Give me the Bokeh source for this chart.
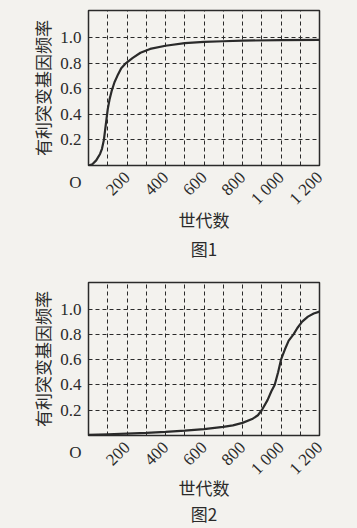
import math
from bokeh.plotting import figure
from bokeh.layouts import column
from bokeh.models import Range1d, FixedTicker
from bokeh.embed import file_html
from bokeh.resources import INLINE

# Figure 1 data (generation, favourable-mutation allele frequency)
gen1 = [0, 20, 40, 60, 70, 80, 90, 100, 110, 120, 135, 150, 170, 195, 230, 270,
        320, 400, 500, 600, 700, 800, 1000, 1200]
freq1 = [0.0, 0.01, 0.04, 0.09, 0.13, 0.2, 0.32, 0.44, 0.52, 0.58, 0.65, 0.7, 0.76,
         0.8, 0.84, 0.88, 0.91, 0.935, 0.955, 0.965, 0.97, 0.975, 0.978, 0.98]

# Figure 2 data
gen2 = [0, 100, 200, 300, 400, 500, 600, 700, 750, 800, 850, 880, 900, 930, 950,
        967, 985, 1000, 1020, 1040, 1065, 1085, 1110, 1140, 1170, 1200]
freq2 = [0.005, 0.01, 0.015, 0.02, 0.028, 0.038, 0.05, 0.068, 0.08, 0.1, 0.13, 0.16,
         0.2, 0.28, 0.35, 0.4, 0.5, 0.6, 0.68, 0.75, 0.8, 0.85, 0.9, 0.94, 0.965, 0.98]

x_ticks = [200, 400, 600, 800, 1000, 1200]
x_tick_labels = ["200", "400", "600", "800", "1 000", "1 200"]
y_ticks = [0, 0.2, 0.4, 0.6, 0.8, 1.0]
y_tick_labels = ["\n\nO", "0.2", "0.4", "0.6", "0.8", "1.0"]
y_grid = [0.2, 0.4, 0.6, 0.8, 1.0]
x_grid = [100, 200, 300, 400, 500, 600, 700, 800, 900, 1000, 1100]

y_title = "有利突变基因频率"
x_title = "世代数"
captions = ["图1", "图2"]

BG = "#f3f2ee"
INK = "#2a2a2a"
CJK = "Noto Sans CJK SC"
SERIF = "Liberation Serif"


def make(gx, fy, caption, h, top, bottom, line_h, lab_standoff):
    p = figure(width=357, height=h, output_backend="svg", toolbar_location=None,
               x_range=Range1d(0, 1200), y_range=Range1d(0, 1.21),
               min_border_left=88, min_border_right=38,
               min_border_top=top, min_border_bottom=bottom)
    p.background_fill_color = BG
    p.border_fill_color = BG
    p.outline_line_color = INK
    p.outline_line_width = 1.5

    p.xgrid.ticker = FixedTicker(ticks=x_grid)
    p.ygrid.ticker = FixedTicker(ticks=y_grid)
    for g in (p.xgrid, p.ygrid):
        g.grid_line_color = INK
        g.grid_line_dash = "4 3"
        g.grid_line_width = 1

    p.xaxis.ticker = FixedTicker(ticks=x_ticks)
    p.xaxis.major_label_overrides = dict(zip(x_ticks, x_tick_labels))
    p.yaxis.ticker = FixedTicker(ticks=y_ticks)
    p.yaxis.major_label_overrides = dict(zip(y_ticks, y_tick_labels))
    for ax in (p.xaxis, p.yaxis):
        ax.axis_line_color = None
        ax.major_tick_line_color = None
        ax.minor_tick_line_color = None
        ax.major_tick_out = 0
        ax.major_tick_in = 0
        ax.minor_tick_out = 0
        ax.minor_tick_in = 0
        ax.major_label_text_font = SERIF
        ax.major_label_text_font_size = "17px"
        ax.major_label_text_color = INK
        ax.axis_label_text_font = CJK
        ax.axis_label_text_font_size = "17px"
        ax.axis_label_text_font_style = "normal"
        ax.axis_label_text_color = INK
    p.yaxis.major_label_text_line_height = 0.9
    p.xaxis.major_label_orientation = math.pi / 4
    p.xaxis.major_label_text_align = "center"
    p.xaxis.major_label_text_baseline = "middle"
    p.xaxis.major_label_standoff = 9
    p.yaxis.major_label_standoff = 7
    p.xaxis.axis_label = x_title + "\n" + caption
    p.xaxis.axis_label_text_line_height = line_h
    p.xaxis.axis_label_standoff = lab_standoff
    p.yaxis.axis_label = y_title
    p.yaxis.axis_label_standoff = 2

    p.line(gx, fy, line_color=INK, line_width=2.2)
    return p


p1 = make(gen1, freq1, captions[0], 264, 10, 99, 1.16, -11)
p2 = make(gen2, freq2, captions[1], 264, 18, 92, 1.03, -13)
layout = column(p1, p2, spacing=0, styles={"background-color": BG})

open("out.html", "w").write(file_html(layout, INLINE))
